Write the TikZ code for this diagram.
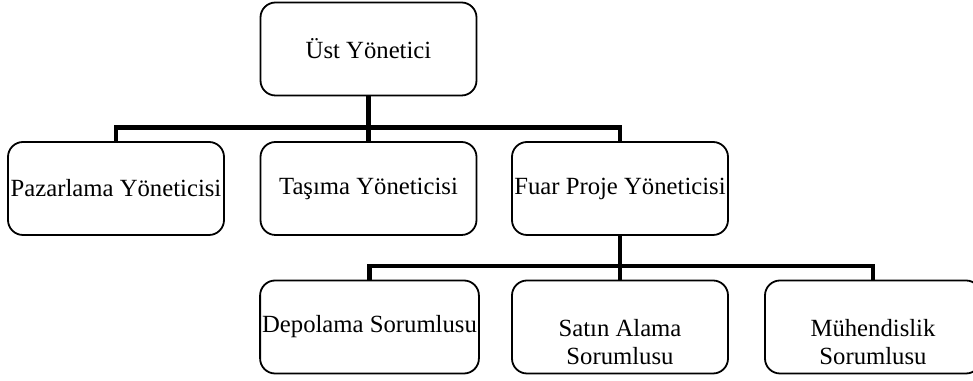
\documentclass[tikz,border=0pt]{standalone}
\usepackage{fontspec}
\setmainfont{Liberation Serif}
\usepackage{xcolor}
\usepackage{tikz}
\usetikzlibrary{positioning, calc}
\definecolor{ink}{RGB}{0,0,0}
\tikzset{
  unit/.style ={rectangle, rounded corners=7.5bp, draw=ink, line width=0.9bp, fill=white,
                inner sep=1bp, minimum width=108bp, minimum height=46.5bp, align=center,
                font=\fontsize{12.4}{14}\selectfont},
  link/.style ={line width=2.3bp, color=ink},
}

\begin{document}
\begin{tikzpicture}[x=0.5bp, y=-0.5bp]
\clip (0,0) rectangle (973,381);
\node[unit] (top) at (368.5,49) {Üst Yönetici};
\foreach \i/\x/\label in {1/116/{Pazarlama Yöneticisi},
                          2/368.5/{Taşıma Yöneticisi},
                          3/620/{Fuar Proje Yöneticisi}} {
  \node[unit] (m\i) at (\x,188.5) {\label};
}
\foreach \i/\x/\label in {1/369.5/{Depolama Sorumlusu},
                          2/620/{\mbox{}\\[10pt]Satın Alama\\Sorumlusu},
                          3/873/{\mbox{}\\[10pt]Mühendislik\\Sorumlusu}} {
  \node[unit] (b\i) at (\x,327) {\label};
}
% top level links
\draw[link] (top.south) -- ++(0,31) coordinate (hub);
\foreach \i in {1,2,3} {
  \draw[link] (hub) -| (m\i.north);
}
% links under the fair project manager
\draw[link] (m3.south) -- ++(0,30) coordinate (subhub);
\foreach \i in {1,2,3} {
  \draw[link] (subhub) -| (b\i.north);
}
\end{tikzpicture}
\end{document}
